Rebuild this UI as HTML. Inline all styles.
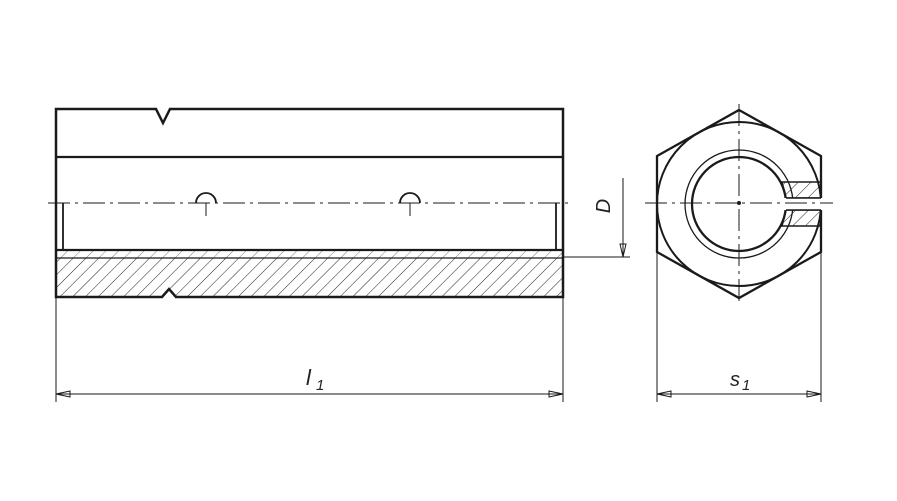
<!DOCTYPE html>
<html><head><style>html,body{margin:0;padding:0;background:#fff;}svg{display:block}</style></head>
<body>
<svg width="897" height="501" viewBox="0 0 897 501" xmlns="http://www.w3.org/2000/svg">
<defs>
<pattern id="h" patternUnits="userSpaceOnUse" width="9" height="9" patternTransform="rotate(45)">
<line x1="0" y1="0" x2="0" y2="9" stroke="#222" stroke-width="1"/>
</pattern>
</defs>
<g fill="none" stroke="#1a1a1a">
<!-- left view hatch -->
<path d="M56 258 H563 V297 H176 L169 289 L162 297 H56 Z" fill="url(#h)" stroke="none"/>
<rect x="56" y="250" width="507" height="8" fill="url(#h)" stroke="none" opacity="0.6"/>
<!-- outline -->
<path d="M56 109 H156 L163 123 L170 109 H563 V297 H176 L169 289 L162 297 H56 Z" stroke-width="2.5"/>
<line x1="56" y1="157" x2="563" y2="157" stroke-width="2.2"/>
<line x1="56" y1="250" x2="563" y2="250" stroke-width="2.2"/>
<line x1="56" y1="258" x2="563" y2="258" stroke-width="1.2"/>
<line x1="63" y1="203" x2="63" y2="250" stroke-width="1.8"/>
<line x1="556" y1="203" x2="556" y2="250" stroke-width="1.8"/>
<!-- holes -->
<path d="M196 203 A10 10 0 0 1 216 203" stroke-width="1.8"/>
<line x1="206" y1="203" x2="206" y2="216" stroke-width="1"/>
<path d="M400 203 A10 10 0 0 1 420 203" stroke-width="1.8"/>
<line x1="410" y1="203" x2="410" y2="216" stroke-width="1"/>
<!-- centerline -->
<line x1="48" y1="203" x2="572" y2="203" stroke-width="1" stroke-dasharray="22,5,3,5"/>
<!-- D dim -->
<line x1="563" y1="257" x2="630" y2="257" stroke-width="1"/>
<line x1="623" y1="178" x2="623" y2="257" stroke-width="1"/>
<path d="M620 244 L623 257 L626 244 Z" stroke-width="1"/>
<!-- hex view -->
<path d="M739 110 L821 156 V252 L739 298 L657 252 V156 Z" stroke-width="2.3"/>
<circle cx="739" cy="204" r="82" stroke-width="2"/>
<path d="M782 182 L821 182 V198 L786 198 Z" fill="url(#h)" stroke-width="1.5"/>
<path d="M786 210 L821 210 V226 L782 226 Z" fill="url(#h)" stroke-width="1.5"/>
<circle cx="739" cy="204" r="54" stroke-width="1.3"/>
<circle cx="739" cy="204" r="47" stroke-width="2.3"/>
<rect x="783" y="198" width="40" height="12" fill="#fff" stroke="none"/>
<line x1="786" y1="198" x2="821" y2="198" stroke-width="1.5"/>
<line x1="786" y1="210" x2="821" y2="210" stroke-width="1.5"/>
<line x1="645" y1="203" x2="833" y2="203" stroke-width="1" stroke-dasharray="22,5,3,5"/>
<line x1="739" y1="104" x2="739" y2="302" stroke-width="1" stroke-dasharray="22,5,3,5"/>
<circle cx="739" cy="203" r="1.5" fill="#1a1a1a"/>
<!-- l1 dim -->
<line x1="56" y1="297" x2="56" y2="402" stroke-width="1"/>
<line x1="563" y1="297" x2="563" y2="402" stroke-width="1"/>
<line x1="56" y1="394" x2="563" y2="394" stroke-width="1"/>
<path d="M56 394 L70 391 L70 397 Z M563 394 L549 391 L549 397 Z" stroke-width="1"/>
<!-- s1 dim -->
<line x1="657" y1="252" x2="657" y2="402" stroke-width="1"/>
<line x1="821" y1="252" x2="821" y2="402" stroke-width="1"/>
<line x1="657" y1="394" x2="821" y2="394" stroke-width="1"/>
<path d="M657 394 L671 391 L671 397 Z M821 394 L807 391 L807 397 Z" stroke-width="1"/>
</g>
<g font-family="Liberation Sans, sans-serif" font-style="italic" fill="#222">
<text x="306" y="385" font-size="22">l</text><text x="316" y="390" font-size="15">1</text>
<text x="730" y="386" font-size="20">s</text><text x="742" y="390" font-size="15">1</text>
<text transform="translate(610 206) rotate(-90)" text-anchor="middle" font-size="20">D</text>
</g>
</svg>
</body></html>
